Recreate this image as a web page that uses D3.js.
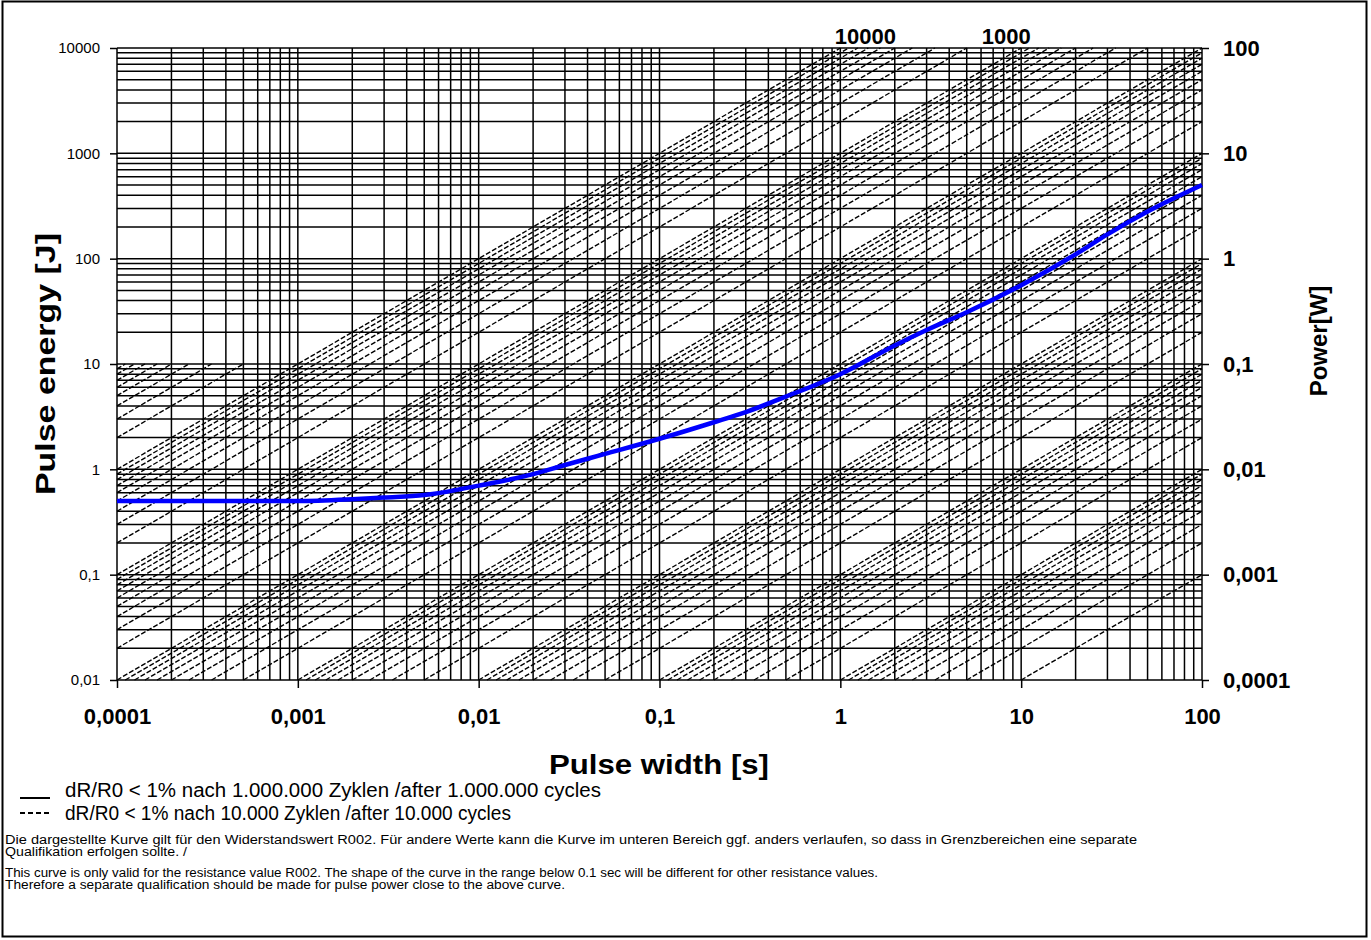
<!DOCTYPE html>
<html>
<head>
<meta charset="utf-8">
<script src="https://cdn.jsdelivr.net/npm/d3@7"></script>
<style>
  html, body { margin: 0; padding: 0; background: #fff; }
  svg { display: block; font-family: Arial, "Liberation Sans", sans-serif; }
</style>
</head>
<body>
<svg id="chart" width="1371" height="940"></svg>
<script>
// ---------- data ----------
const xTicks = [0.0001, 0.001, 0.01, 0.1, 1, 10, 100];          // pulse width [s]
const yTicks = [0.01, 0.1, 1, 10, 100, 1000, 10000];             // pulse energy [J]
const powerTicks = [0.0001, 0.001, 0.01, 0.1, 1, 10, 100];       // right axis Power[W]
const minorMultipliers = [1, 2, 3, 4, 5, 6, 7, 8, 9];

// constant-power reference lines E = P * t
const powerDecades = [0.001, 0.01, 0.1, 1, 10, 100, 1000];
const powerMultipliers = [1, 2, 3, 4, 5, 6, 7, 8, 9];
const topPowerLine = [10000];
const cappedPowers = [20000, 30000, 40000, 50000, 60000, 70000, 80000, 90000];
const cappedEnergy = 10;

const topLabels = ["10000", "1000"];
const topLabelPowers = [10000, 1000];

// blue curve (R002)
const curveT = [0.0001, 0.0005, 0.001, 0.002, 0.003, 0.005, 0.008, 0.01, 0.02, 0.03, 0.05, 0.1, 0.2, 0.3, 0.5, 1, 2, 3, 5, 10, 20, 30, 50, 100];
const curveE = [0.5, 0.5, 0.5, 0.52, 0.54, 0.57, 0.65, 0.7, 0.9, 1.1, 1.4, 1.95, 2.8, 3.5, 4.9, 8, 15, 21, 31, 56, 110, 170, 280, 500];

const legendTexts = [
  "dR/R0 < 1% nach 1.000.000 Zyklen /after 1.000.000 cycles",
  "dR/R0 < 1% nach 10.000 Zyklen /after 10.000 cycles"
];
const noteLines = [
  "Die dargestellte Kurve gilt für den Widerstandswert R002. Für andere Werte kann die Kurve im unteren Bereich ggf. anders verlaufen, so dass in Grenzbereichen eine separate",
  "Qualifikation erfolgen sollte. /",
  "This curve is only valid for the resistance value R002. The shape of the curve in the range below 0.1 sec will be different for other resistance values.",
  "Therefore a separate qualification should be made for pulse power close to the above curve."
];

// ---------- layout ----------
const L = 117, R = 1202, T = 48, B = 680;
const svg = d3.select("#chart");

svg.append("rect").attr("x", 2.5).attr("y", 1.5).attr("width", 1364).attr("height", 935)
  .attr("fill", "none").attr("stroke", "#000").attr("stroke-width", 2);

const x = d3.scaleLog().domain([1e-4, 100]).range([L, R]);
const y = d3.scaleLog().domain([0.01, 10000]).range([B, T]);
const yR = d3.scaleLog().domain([0.0001, 100]).range([B, T]);

const fmt = d => String(d).replace(".", ",");
const FONT = "Arial, 'Liberation Sans', sans-serif";

// grid
const gx = [], gy = [];
xTicks.slice(0, -1).forEach(d => minorMultipliers.forEach(m => gx.push(d * m)));
gx.push(100);
yTicks.slice(0, -1).forEach(d => minorMultipliers.forEach(m => gy.push(d * m)));
gy.push(10000);

const grid = svg.append("g").attr("stroke", "#000").attr("stroke-width", 1.5);
grid.selectAll("line.v").data(gx).join("line").attr("class", "v")
  .attr("x1", d => x(d)).attr("x2", d => x(d)).attr("y1", T).attr("y2", B);
grid.selectAll("line.h").data(gy).join("line").attr("class", "h")
  .attr("x1", L).attr("x2", R).attr("y1", d => y(d)).attr("y2", d => y(d));

// power lines
const lines = [];
powerDecades.forEach(p0 => powerMultipliers.forEach(m => lines.push({ p: p0 * m, cap: 10000 })));
topPowerLine.forEach(p => lines.push({ p, cap: 10000 }));
cappedPowers.forEach(p => lines.push({ p, cap: cappedEnergy }));

const segs = lines.map(l => {
  const t0 = Math.max(1e-4, 0.01 / l.p);
  const t1 = Math.min(100, l.cap / l.p);
  return { t0, t1, p: l.p };
}).filter(s => s.t0 < s.t1);

svg.append("g").attr("stroke", "#000").attr("stroke-width", 1.4)
  .attr("stroke-dasharray", "5,2")
  .selectAll("line").data(segs).join("line")
  .attr("x1", s => x(s.t0)).attr("y1", s => y(s.p * s.t0))
  .attr("x2", s => x(s.t1)).attr("y2", s => y(s.p * s.t1));

// axes
const axL = svg.append("g").attr("transform", `translate(${L},0)`)
  .call(d3.axisLeft(y).tickValues(yTicks).tickFormat(fmt).tickSize(7).tickPadding(10));
axL.select(".domain").remove();
axL.selectAll("text").attr("font-size", 15).attr("font-family", FONT).attr("fill", "#000");
axL.selectAll("line").attr("stroke-width", 1.5);

const axR = svg.append("g").attr("transform", `translate(${R},0)`)
  .call(d3.axisRight(yR).tickValues(powerTicks).tickFormat(fmt).tickSize(7).tickPadding(14));
axR.select(".domain").remove();
axR.selectAll("text").attr("font-size", 22).attr("font-weight", "bold").attr("font-family", FONT).attr("fill", "#000");
axR.selectAll("line").attr("stroke-width", 1.5);

const axB = svg.append("g").attr("transform", `translate(0,${B})`)
  .call(d3.axisBottom(x).tickValues(xTicks).tickFormat(fmt).tickSize(8).tickPadding(20));
axB.select(".domain").remove();
axB.selectAll("text").attr("font-size", 22).attr("font-weight", "bold").attr("font-family", FONT).attr("fill", "#000");
axB.selectAll("line").attr("stroke-width", 1.5);

// top labels for power lines
svg.selectAll("text.top").data(topLabels).join("text").attr("class", "top")
  .attr("x", (d, i) => x(10000 / topLabelPowers[i]) + (i === 0 ? 25 : -15))
  .attr("y", 44).attr("text-anchor", "middle")
  .attr("font-size", 22).attr("font-weight", "bold").text(d => d);

// blue curve
const curve = curveT.map((t, i) => [t, curveE[i]]);
svg.append("path").datum(curve)
  .attr("fill", "none").attr("stroke", "#0000ff").attr("stroke-width", 4.5)
  .attr("stroke-linejoin", "round")
  .attr("d", d3.line().x(d => x(d[0])).y(d => y(d[1])).curve(d3.curveMonotoneX));

// titles
svg.append("text").attr("transform", `translate(55,${(T + B) / 2}) rotate(-90)`)
  .attr("text-anchor", "middle").attr("font-size", 27).attr("font-weight", "bold")
  .attr("textLength", 262).attr("lengthAdjust", "spacingAndGlyphs")
  .text("Pulse energy [J]");
svg.append("text").attr("x", 659).attr("y", 774).attr("text-anchor", "middle")
  .attr("font-size", 27).attr("font-weight", "bold")
  .attr("textLength", 220).attr("lengthAdjust", "spacingAndGlyphs")
  .text("Pulse width [s]");
svg.append("text").attr("transform", `translate(1327,341) rotate(-90)`)
  .attr("text-anchor", "middle").attr("font-size", 24).attr("font-weight", "bold")
  .text("Power[W]");

// legend
svg.append("line").attr("x1", 20).attr("x2", 50).attr("y1", 798).attr("y2", 798)
  .attr("stroke", "#000").attr("stroke-width", 2);
svg.append("line").attr("x1", 20).attr("x2", 52).attr("y1", 813).attr("y2", 813)
  .attr("stroke", "#000").attr("stroke-width", 2).attr("stroke-dasharray", "5,3");
const legendLen = [536, 446];
svg.selectAll("text.leg").data(legendTexts).join("text").attr("class", "leg")
  .attr("x", 65).attr("y", (d, i) => 797 + i * 23).attr("font-size", 20)
  .attr("textLength", (d, i) => legendLen[i]).attr("lengthAdjust", "spacingAndGlyphs")
  .text(d => d);

// notes
const noteY = [844, 856, 877, 889];
const noteLen = [1132, 182, 873, 560];
svg.selectAll("text.note").data(noteLines).join("text").attr("class", "note")
  .attr("x", 5).attr("y", (d, i) => noteY[i]).attr("font-size", 12.5)
  .attr("textLength", (d, i) => noteLen[i]).attr("lengthAdjust", "spacingAndGlyphs")
  .text(d => d);
</script>
</body>
</html>
